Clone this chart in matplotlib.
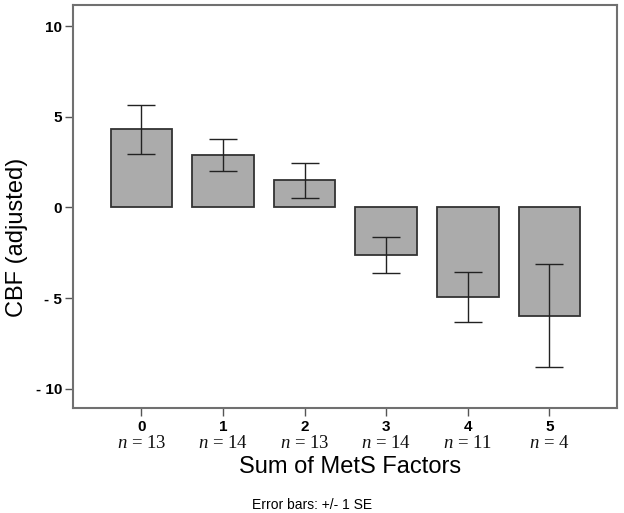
import matplotlib
matplotlib.use("Agg")
import matplotlib.pyplot as plt
import matplotlib.transforms as mtransforms

categories = ["0", "1", "2", "3", "4", "5"]
n_counts = [13, 14, 13, 14, 11, 4]
means = [4.31, 2.91, 1.49, -2.62, -4.95, -5.97]
se = [1.34, 0.87, 0.98, 0.97, 1.38, 2.84]
yticks = [10, 5, 0, -5, -10]
ytick_labels = ["10", "5", "0", "- 5", "- 10"]

plt.rcParams["font.family"] = ["Liberation Sans", "DejaVu Sans"]
plt.rcParams["mathtext.fontset"] = "custom"
plt.rcParams["mathtext.rm"] = "Liberation Serif"
plt.rcParams["mathtext.it"] = "Liberation Serif:italic"

fig = plt.figure(figsize=(6.24, 5.13), dpi=100)
ax = fig.add_axes([0.1175, 0.2053, 0.8713, 0.784])

x = list(range(len(categories)))
ax.bar(x, means, width=0.755, color="#ababab", edgecolor="#333333", linewidth=1.3, zorder=2)
ax.errorbar(x, means, yerr=se, fmt="none", ecolor="#222222", elinewidth=1.0,
            capsize=10, capthick=1.0, zorder=3)

ax.set_xlim(-0.835, 5.83)
ax.set_ylim(-11.05, 11.15)
ax.set_yticks(yticks)
ax.set_yticklabels(ytick_labels, fontweight="bold", fontsize=11)
ax.set_xticks(x)
ax.set_xticklabels(categories, fontweight="bold", fontsize=11)
ax.tick_params(axis="both", direction="out", length=6, width=1.0, color="#555555")
ax.tick_params(axis="x", pad=3)
ax.tick_params(axis="y", pad=2)
for s in ax.spines.values():
    s.set_color("#707070")
    s.set_linewidth(1.5)

trans = mtransforms.blended_transform_factory(ax.transData, fig.transFigure)
for xi, n in zip(x, n_counts):
    ax.text(xi, 1 - 443 / 513, r"$\mathit{n}$ = %d" % n, transform=trans,
            ha="center", va="center", fontsize=13.5, family="Liberation Serif",
            color="#111111")

fig.text(350 / 624, 1 - 467 / 513, "Sum of MetS Factors", ha="center", va="center", fontsize=17)
fig.text(17 / 624, 1 - 237 / 513, "CBF (adjusted)", ha="center", va="center",
         rotation=90, fontsize=17)
fig.text(312 / 624, 1 - 505 / 513, "Error bars: +/- 1 SE", ha="center", va="center", fontsize=10)

fig.savefig("out.png", dpi=100)
